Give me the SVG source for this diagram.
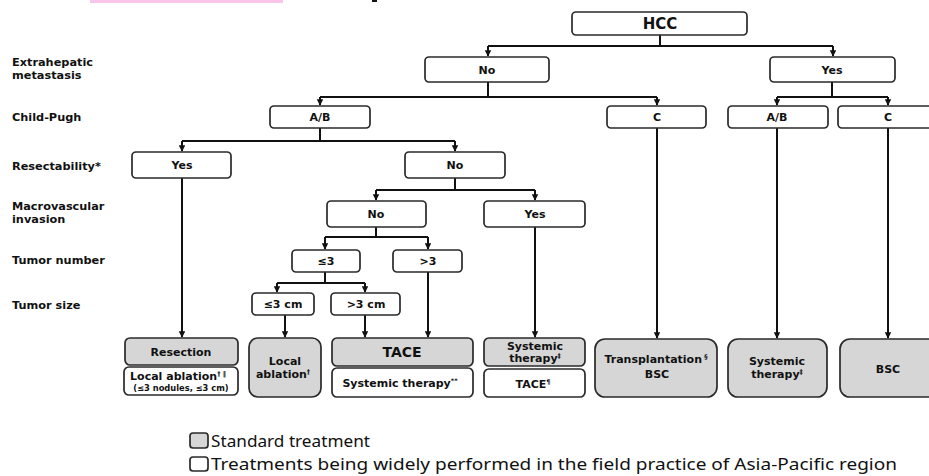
<svg xmlns="http://www.w3.org/2000/svg" width="929" height="476" viewBox="0 0 929 476">
<style>
.bx{fill:#fff;stroke:#2a2a2a;stroke-width:1.7}
.st{fill:#d6d6d6;stroke:#2a2a2a;stroke-width:1.7}
.t{font-family:"DejaVu Sans",sans-serif;font-weight:bold;font-size:11px;fill:#111;text-anchor:middle}
.lb{font-family:"DejaVu Sans",sans-serif;font-weight:bold;font-size:11.3px;fill:#111}
.lg{font-family:"Noto Sans","Open Sans",sans-serif;font-size:16px;fill:#111}
.c path{fill:none;stroke:#111;stroke-width:2}
.sup{font-size:6.5px}
</style>
<defs>
<marker id="ah" viewBox="0 0 10 10" refX="9" refY="5" markerWidth="3.2" markerHeight="3.2" orient="auto" markerUnits="strokeWidth">
<path d="M0,0 L10,5 L0,10 z" fill="#111"/>
</marker>
</defs>
<rect width="929" height="476" fill="#fff"/>
<rect x="90" y="0" width="193" height="3" fill="#f9c6ea"/>
<rect x="372" y="0" width="5" height="2" fill="#111"/>

<g id="labels">
<text class="lb" x="12" y="66">Extrahepatic</text>
<text class="lb" x="12" y="79">metastasis</text>
<text class="lb" x="12" y="121">Child-Pugh</text>
<text class="lb" x="12" y="170">Resectability*</text>
<text class="lb" x="12" y="210">Macrovascular</text>
<text class="lb" x="12" y="223">invasion</text>
<text class="lb" x="12" y="264">Tumor number</text>
<text class="lb" x="12" y="309">Tumor size</text>
</g>

<g class="c" id="connectors">
<path d="M660,35 V46 M488,46 H833"/>
<path d="M488,46 V56" marker-end="url(#ah)"/>
<path d="M833,46 V56" marker-end="url(#ah)"/>
<path d="M488,82 V97 M320,97 H657"/>
<path d="M320,97 V105" marker-end="url(#ah)"/>
<path d="M657,97 V105" marker-end="url(#ah)"/>
<path d="M832,82 V97 M777,97 H888"/>
<path d="M777,97 V105" marker-end="url(#ah)"/>
<path d="M888,97 V105" marker-end="url(#ah)"/>
<path d="M320,128 V141 M182,141 H455"/>
<path d="M182,141 V151" marker-end="url(#ah)"/>
<path d="M455,141 V151" marker-end="url(#ah)"/>
<path d="M455,178 V190 M376,190 H535"/>
<path d="M376,190 V200" marker-end="url(#ah)"/>
<path d="M535,190 V200" marker-end="url(#ah)"/>
<path d="M376,227 V237 M325,237 H428"/>
<path d="M325,237 V249" marker-end="url(#ah)"/>
<path d="M428,237 V249" marker-end="url(#ah)"/>
<path d="M325,272 V283 M277,283 H365"/>
<path d="M277,283 V292" marker-end="url(#ah)"/>
<path d="M365,283 V292" marker-end="url(#ah)"/>
<path d="M182,178 V337" marker-end="url(#ah)"/>
<path d="M285,315 V337" marker-end="url(#ah)"/>
<path d="M365,315 V337" marker-end="url(#ah)"/>
<path d="M428,272 V337" marker-end="url(#ah)"/>
<path d="M535,227 V337" marker-end="url(#ah)"/>
<path d="M657,128 V338" marker-end="url(#ah)"/>
<path d="M777,128 V338" marker-end="url(#ah)"/>
<path d="M888,128 V338" marker-end="url(#ah)"/>
</g>

<g id="hcc"><rect class="bx" x="572" y="12" width="175" height="23" rx="4"/><text class="t" x="660" y="29" style="font-size:15px">HCC</text></g>
<g id="ext-no"><rect class="bx" x="425" y="57" width="124" height="25" rx="4"/><text class="t" x="487" y="73.5">No</text></g>
<g id="ext-yes"><rect class="bx" x="770" y="57" width="125" height="25" rx="4"/><text class="t" x="832" y="73.5">Yes</text></g>
<g id="cp-ab"><rect class="bx" x="270" y="106" width="100" height="22" rx="4"/><text class="t" x="320" y="121">A/B</text></g>
<g id="cp-c"><rect class="bx" x="607" y="106" width="99" height="22" rx="4"/><text class="t" x="657" y="121">C</text></g>
<g id="cp-ab2"><rect class="bx" x="728" y="106" width="100" height="22" rx="4"/><text class="t" x="777" y="121">A/B</text></g>
<g id="cp-c2"><rect class="bx" x="838" y="106" width="102" height="22" rx="4"/><text class="t" x="888" y="121">C</text></g>
<g id="res-yes"><rect class="bx" x="132" y="152" width="99" height="26" rx="4"/><text class="t" x="182" y="169">Yes</text></g>
<g id="res-no"><rect class="bx" x="405" y="152" width="100" height="26" rx="4"/><text class="t" x="455" y="169">No</text></g>
<g id="mv-no"><rect class="bx" x="327" y="201" width="99" height="26" rx="4"/><text class="t" x="376" y="218">No</text></g>
<g id="mv-yes"><rect class="bx" x="484" y="201" width="101" height="26" rx="4"/><text class="t" x="535" y="218">Yes</text></g>
<g id="tn-le3"><rect class="bx" x="292" y="250" width="68" height="22" rx="4"/><text class="t" x="326" y="265">≤3</text></g>
<g id="tn-gt3"><rect class="bx" x="393" y="250" width="69" height="22" rx="4"/><text class="t" x="428" y="265">&gt;3</text></g>
<g id="ts-le3"><rect class="bx" x="252" y="293" width="62" height="22" rx="4"/><text class="t" x="283" y="308">≤3 cm</text></g>
<g id="ts-gt3"><rect class="bx" x="331" y="293" width="69" height="22" rx="4"/><text class="t" x="366" y="308">&gt;3 cm</text></g>

<g id="resection"><rect class="st" x="125" y="338" width="113" height="27" rx="5"/><text class="t" x="181" y="356">Resection</text></g>
<g id="ablation-alt"><rect class="bx" x="124" y="367" width="114" height="28" rx="5"/><text class="t" x="178" y="380">Local ablation<tspan class="sup" dy="-4">† ‖</tspan></text><text class="t" x="181" y="391" style="font-size:8.3px">(≤3 nodules, ≤3 cm)</text></g>
<g id="ablation"><rect class="st" x="249" y="338" width="72" height="59" rx="9"/><text class="t" x="285" y="365">Local</text><text class="t" x="283" y="378">ablation<tspan class="sup" dy="-4">†</tspan></text></g>
<g id="tace"><rect class="st" x="332" y="338" width="141" height="28" rx="5"/><text class="t" x="402" y="357" style="font-size:14px">TACE</text></g>
<g id="systemic-alt"><rect class="bx" x="332" y="368" width="141" height="29" rx="5"/><text class="t" x="400" y="387">Systemic therapy<tspan class="sup" dy="-4">**</tspan></text></g>
<g id="systemic1"><rect class="st" x="484" y="338" width="101" height="28" rx="5"/><text class="t" x="535" y="350">Systemic</text><text class="t" x="535" y="362">therapy<tspan class="sup" dy="-4">‡</tspan></text></g>
<g id="tace-alt"><rect class="bx" x="484" y="369" width="101" height="28" rx="5"/><text class="t" x="533" y="388">TACE<tspan class="sup" dy="-4">¶</tspan></text></g>
<g id="transplant"><rect class="st" x="595" y="339" width="122" height="58" rx="10"/><text class="t" x="656" y="363">Transplantation<tspan class="sup" dy="-4"> §</tspan></text><text class="t" x="657" y="378">BSC</text></g>
<g id="systemic2"><rect class="st" x="728" y="339" width="99" height="58" rx="10"/><text class="t" x="777" y="365">Systemic</text><text class="t" x="777" y="378">therapy<tspan class="sup" dy="-4">‡</tspan></text></g>
<g id="bsc"><rect class="st" x="840" y="339" width="100" height="58" rx="10"/><text class="t" x="888" y="373">BSC</text></g>

<g id="legend">
<rect class="st" x="190" y="433" width="18" height="15" rx="3"/>
<text class="lg" x="211" y="447" textLength="159" lengthAdjust="spacingAndGlyphs">Standard treatment</text>
<rect class="bx" x="190" y="457" width="18" height="14" rx="3"/>
<text class="lg" x="211" y="470" textLength="686" lengthAdjust="spacingAndGlyphs">Treatments being widely performed in the field practice of Asia-Pacific region</text>
</g>
</svg>
